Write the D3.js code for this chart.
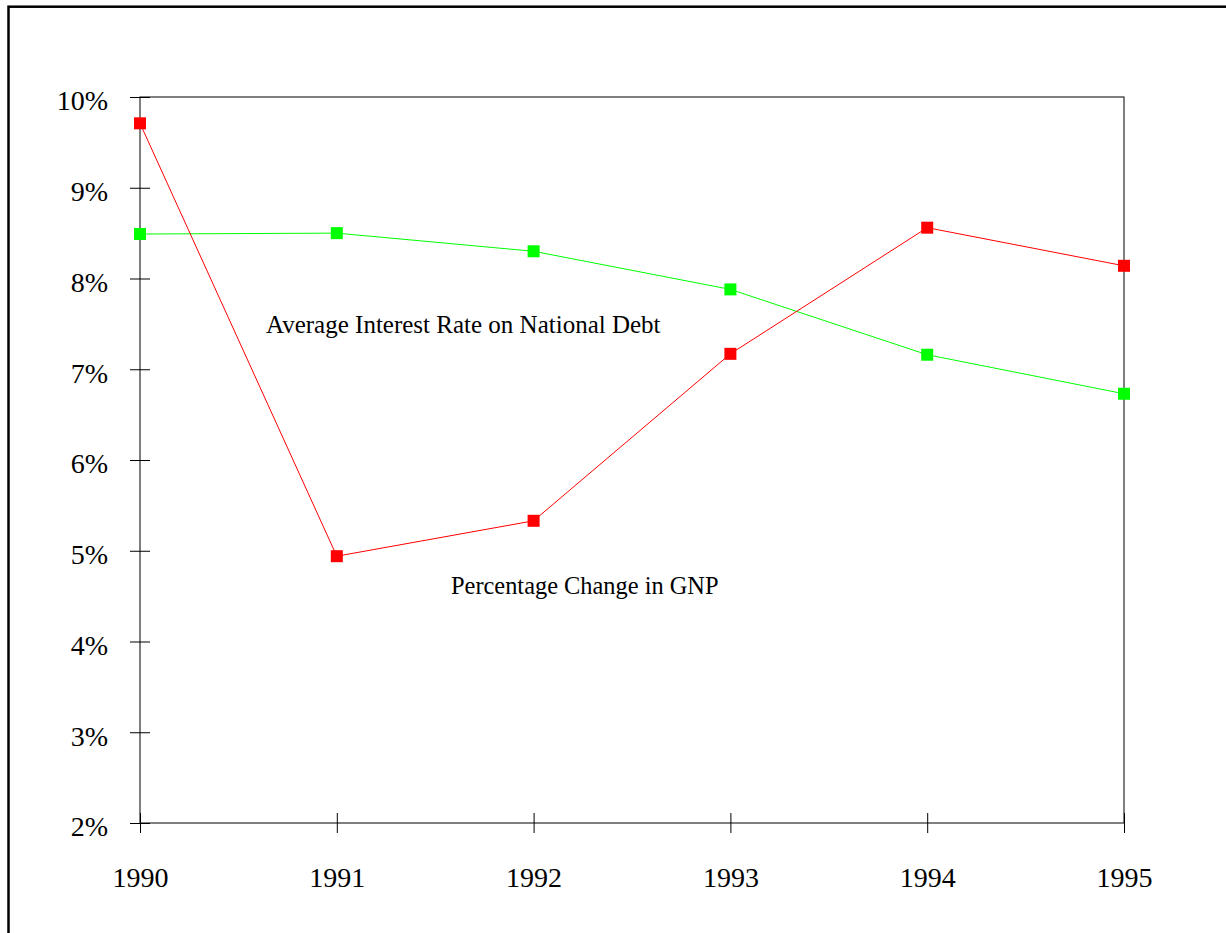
<!DOCTYPE html>
<html>
<head>
<meta charset="utf-8">
<script src="https://cdn.jsdelivr.net/npm/d3@7"></script>
<style>
  body { margin: 0; background: #fff; overflow: hidden; }
  text { font-family: "Liberation Serif", "Times New Roman", serif; fill: #000; }
</style>
</head>
<body>
<svg id="chart" width="1226" height="933"></svg>
<script>
var years = [1990, 1991, 1992, 1993, 1994, 1995];
var gnpChange = [9.71, 4.94, 5.33, 7.17, 8.56, 8.14];
var interestRate = [8.49, 8.50, 8.30, 7.88, 7.16, 6.73];
var yTicks = [2, 3, 4, 5, 6, 7, 8, 9, 10];

var svg = d3.select("#chart");

// outer frame (only left and top edges fall inside the picture)
svg.append("rect")
  .attr("x", 8.5).attr("y", 6.7)
  .attr("width", 1400).attr("height", 1100)
  .attr("fill", "none")
  .attr("stroke", "#000")
  .attr("stroke-width", 2.5);

var margin = { top: 97, left: 140, right: 102, bottom: 110 };
var width = 1226 - margin.left - margin.right;
var height = 933 - margin.top - margin.bottom;

var g = svg.append("g")
  .attr("transform", `translate(${margin.left}, ${margin.top})`);

var x = d3.scaleLinear().domain([1990, 1995]).range([0, width]);
var y = d3.scaleLinear().domain([2, 10]).range([height, 0]);

// plot box
g.append("rect")
  .attr("width", width).attr("height", height)
  .attr("fill", "none")
  .attr("stroke", "#000")
  .attr("stroke-width", 1);

// y axis: ticks crossing the axis
var yAxis = g.append("g")
  .call(d3.axisLeft(y).tickValues(yTicks).tickSize(10).tickPadding(22).tickFormat(d => d + "%"));
yAxis.select(".domain").remove();
yAxis.selectAll(".tick line").attr("x1", 10).attr("x2", -10);
yAxis.selectAll("text")
  .style("font-size", "28px")
  .attr("x", -32)
  .attr("dy", "0.46em");

// x axis
var xAxis = g.append("g")
  .attr("transform", `translate(0, ${height})`)
  .call(d3.axisBottom(x).tickValues(years).tickSize(10).tickFormat(d3.format("d")));
xAxis.select(".domain").remove();
xAxis.selectAll(".tick line").attr("y1", -10).attr("y2", 10);
xAxis.selectAll("text")
  .style("font-size", "28px")
  .attr("y", 64)
  .attr("dy", 0);

function drawSeries(values, color) {
  var line = d3.line()
    .x((d, i) => x(years[i]))
    .y(d => y(d));
  g.append("path")
    .datum(values)
    .attr("d", line)
    .attr("fill", "none")
    .attr("stroke", color)
    .attr("stroke-width", 1);
  g.selectAll(null)
    .data(values).enter()
    .append("rect")
    .attr("x", (d, i) => x(years[i]) - 6)
    .attr("y", d => y(d) - 6)
    .attr("width", 12).attr("height", 12)
    .attr("fill", color);
}

drawSeries(interestRate, "#00ff00");
drawSeries(gnpChange, "#ff0000");

g.append("text")
  .attr("x", 266 - margin.left)
  .attr("y", 333 - margin.top)
  .style("font-size", "25px")
  .text("Average Interest Rate on National Debt");

g.append("text")
  .attr("x", 451 - margin.left)
  .attr("y", 594 - margin.top)
  .style("font-size", "24.4px")
  .text("Percentage Change in GNP");
</script>
</body>
</html>
